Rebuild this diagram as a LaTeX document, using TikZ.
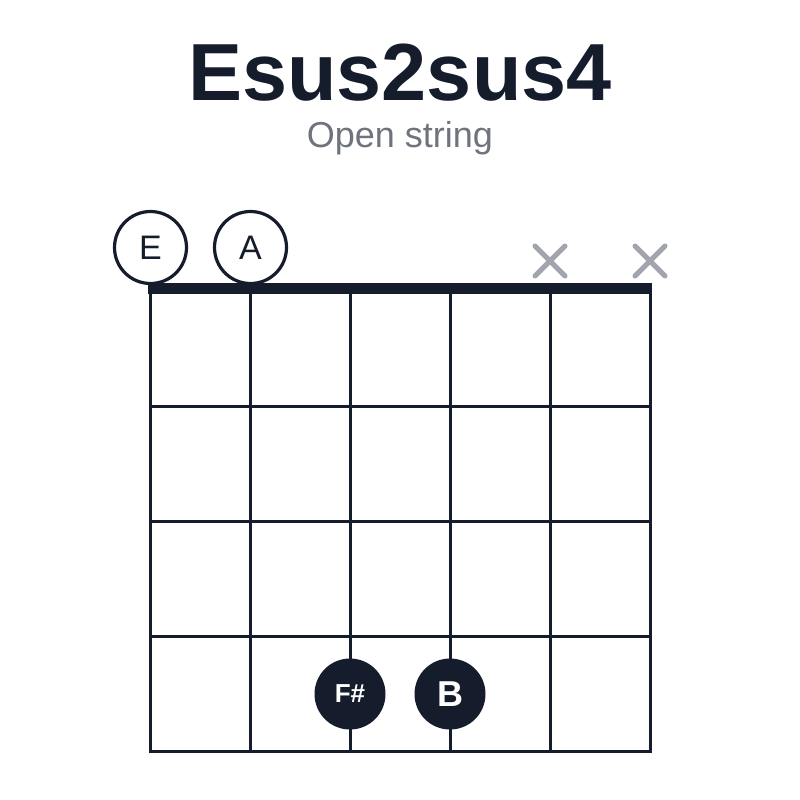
\documentclass[tikz,border=0pt]{standalone}
\usepackage{xcolor}
\usepackage{fontspec}
\setmainfont{Liberation Sans}
\usepackage{tikz}
\definecolor{ink}{HTML}{151C2B}
\definecolor{subgray}{HTML}{6E737D}
\definecolor{mutegray}{HTML}{A2A5AD}

\begin{document}
\begin{tikzpicture}[x=1pt,y=-1pt,line width=3pt,
    open node/.style={circle,draw=ink,line width=3.2pt,fill=white,minimum size=72pt,inner sep=0pt,text=ink,font=\fontsize{34}{34}\selectfont},
    finger node/.style={circle,fill=ink,minimum size=71pt,inner sep=0pt,text=white,font=\bfseries\fontsize{36}{36}\selectfont},
    mute line/.style={draw=mutegray,line width=5pt,line cap=round}]
    \fill[white] (0,0) rectangle (800,800);
    \useasboundingbox (0,0) rectangle (800,800);

    \node[anchor=base,text=ink,font=\bfseries\fontsize{81}{81}\selectfont] (title) at (400,100) {Esus2sus4};
    \node[anchor=base,text=subgray,font=\fontsize{36}{36}\selectfont] (sub) at (400,147) {Open string};

    % frets and strings
    \draw[ink] (150,288) rectangle (650,751);
    \draw[ink] (150,406) -- (650,406);
    \draw[ink] (150,521) -- (650,521);
    \draw[ink] (150,636) -- (650,636);
    \draw[ink] (250,288) -- (250,751);
    \draw[ink] (350,288) -- (350,751);
    \draw[ink] (450,288) -- (450,751);
    \draw[ink] (550,288) -- (550,751);
    \fill[ink] (148,283) rectangle (652,294);

    \node[open node] (E) at (150.5,247.5) {E};
    \node[open node] (A) at (250.5,247.5) {A};
    \coordinate (m5) at (550,261);
    \coordinate (m6) at (650,261);
    \draw[mute line] ([shift={(-15,-15)}]m5) -- ([shift={(15,15)}]m5);
    \draw[mute line] ([shift={(-15,15)}]m5) -- ([shift={(15,-15)}]m5);
    \draw[mute line] ([shift={(-15,-15)}]m6) -- ([shift={(15,15)}]m6);
    \draw[mute line] ([shift={(-15,15)}]m6) -- ([shift={(15,-15)}]m6);

    \node[finger node,font=\bfseries\fontsize{26}{26}\selectfont] (Fs) at (350,694) {F\#};
    \node[finger node] (B) at (450,694) {B};
  \end{tikzpicture}
\end{document}
